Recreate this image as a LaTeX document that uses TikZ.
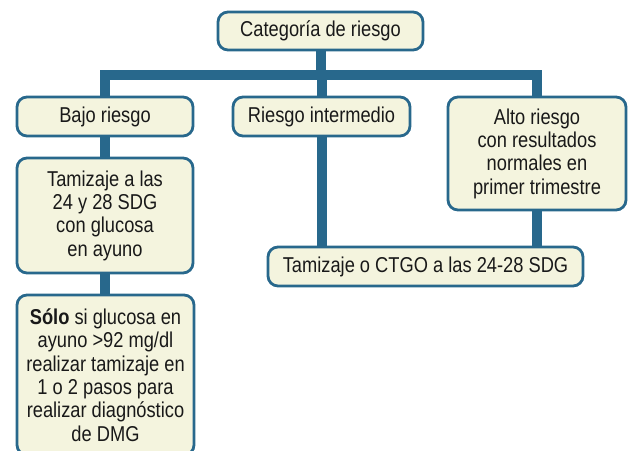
\documentclass[tikz,border=0pt]{standalone}
\usepackage{fontspec}
\setmainfont[FakeStretch=0.85]{Liberation Sans}
\usetikzlibrary{backgrounds}
\definecolor{barblue}{RGB}{40,104,140}
\definecolor{boxfill}{RGB}{244,244,222}
\definecolor{boxtext}{RGB}{25,25,25}

\begin{document}
\begin{tikzpicture}[x=1pt, y=-1pt,
  box/.style={draw=barblue, line width=2.8pt, fill=boxfill, rounded corners=10pt,
    text=boxtext, align=center, inner sep=0pt,
    font=\fontsize{21.5}{23.3}\selectfont},
  bar/.style={draw=barblue, line width=10pt, line join=miter}]
\useasboundingbox (0, 0) rectangle (629, 450);
%Boxes
\node [box, minimum width=205pt, minimum height=38pt] (cat) at (320.5, 31) {Categoría de riesgo};
\node [box, minimum width=176pt, minimum height=39pt] (bajo) at (105, 116.5) {Bajo riesgo};
\node [box, minimum width=177pt, minimum height=39pt] (inter) at (321.5, 116.5) {Riesgo intermedio};
\node [box, minimum width=178pt, minimum height=113pt] (alto) at (537, 153.5) {Alto riesgo\\con resultados\\normales en\\primer trimestre};
\node [box, minimum width=176pt, minimum height=115pt] (tam) at (105, 215.5) {Tamizaje a las\\24 y 28 SDG\\con glucosa\\en ayuno};
\node [box, minimum width=315pt, minimum height=39pt] (ctgo) at (425.5, 266.5) {Tamizaje o CTGO a las 24-28 SDG};
\node [box, minimum width=177pt, minimum height=160pt] (solo) at (105.5, 375) {\textbf{Sólo} si glucosa en\\ayuno >92 mg/dl\\realizar tamizaje en\\1 o 2 pasos para\\realizar diagnóstico\\de DMG};
%Connectors
\begin{scope}[on background layer]
\coordinate (bus) at (0, 75);
\draw [bar] (bajo.north) -- (bajo.north |- bus) -- (alto.north |- bus) -- (alto.north);
\draw [bar] (cat.south) -- (cat.south |- bus);
\draw [bar] (inter.north) -- (inter.north |- bus);
\draw [bar] (bajo.south) -- (tam.north);
\draw [bar] (tam.south) -- (tam.south |- solo.north);
\draw [bar] (inter.south) -- (inter.south |- ctgo.north);
\draw [bar] (alto.south) -- (alto.south |- ctgo.north);
\end{scope}
\end{tikzpicture}
\end{document}
